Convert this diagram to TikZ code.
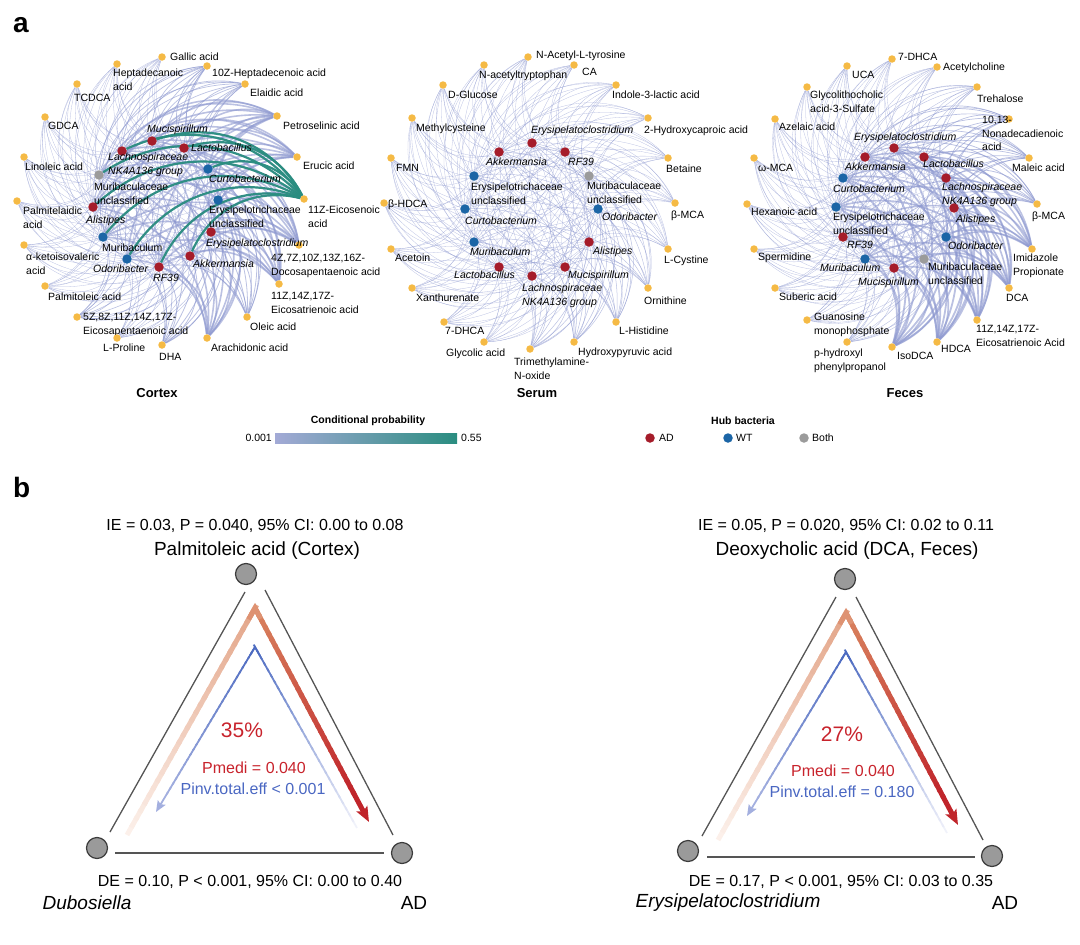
\documentclass[tikz,border=0pt]{standalone}
\usepackage{fontspec}
\setmainfont{Liberation Sans}
\usetikzlibrary{arrows.meta,calc}
\pgfdeclarelayer{bg}
\pgfsetlayers{bg,main}
\definecolor{metY}{HTML}{F5BA45}
\definecolor{adR}{HTML}{A51C2A}
\definecolor{wtB}{HTML}{1B65A6}
\definecolor{bothG}{HTML}{9B9B9B}
\definecolor{edgeC}{HTML}{8D98CF}
\definecolor{tealC}{HTML}{2A8D80}
\definecolor{cbL}{HTML}{A3AAD6}
\definecolor{triG}{HTML}{9A9A9A}
\definecolor{triD}{HTML}{3C3C3C}
\definecolor{sideC}{HTML}{555555}
\definecolor{txtR}{HTML}{C8232C}
\definecolor{txtB}{HTML}{4A67C2}
\definecolor{oLa}{HTML}{FCF1EB}
\definecolor{oLb}{HTML}{E3A487}
\definecolor{oRa}{HTML}{D9845F}
\definecolor{oRb}{HTML}{C0252B}
\definecolor{oAp}{HTML}{DE9272}
\definecolor{bLa}{HTML}{F2F3FB}
\definecolor{bAp}{HTML}{4D6BC1}
\definecolor{bLt}{HTML}{A3AFDF}
\newcommand{\netfont}{\fontsize{10.5}{13.6}\selectfont}
\newcommand{\metab}[4]{\node[met] (#1) at (#2) {}; \node[lab] (#1t) at (#3) {#4};}
\newcommand{\bact}[6]{\node[#2] (#1) at (#3) {}; \node[#5] (#1t) at (#4) {#6};}
\newcommand{\gseg}[6]{%
  \foreach \k in {1,...,#6}{%
    \pgfmathsetmacro{\ga}{(\k-1)/#6}%
    \pgfmathsetmacro{\gb}{(\k+0.4)/#6}%
    \pgfmathtruncatemacro{\gp}{100*(\k-0.5)/#6}%
    \draw[line width=#5, draw={#4!\gp!#3}] ($(#1)!\ga!(#2)$) -- ($(#1)!\gb!(#2)$);
  }}
\tikzset{
  met/.style={circle,fill=metY,inner sep=0pt,minimum size=7.5pt},
  ad/.style={circle,fill=adR,inner sep=0pt,minimum size=9.5pt},
  wt/.style={circle,fill=wtB,inner sep=0pt,minimum size=9.5pt},
  both/.style={circle,fill=bothG,inner sep=0pt,minimum size=9.5pt},
  lab/.style={inner sep=0pt,anchor=north west,align=left,font=\netfont,yshift=4pt},
  itl/.style={lab,font=\netfont\itshape},
  edge/.style={draw=edgeC,opacity=0.6},
  tealedge/.style={draw=tealC,line width=2.2pt,opacity=0.95},
  tri/.style={circle,draw=triD,fill=triG,line width=1.2pt,minimum size=21pt,inner sep=0pt},
  side/.style={draw=sideC,line width=1.3pt},
  btxt/.style={font=\fontsize{16}{19}\selectfont,inner sep=0pt},
  bttl/.style={font=\fontsize{19}{22}\selectfont,inner sep=0pt},
  ttl/.style={font=\fontsize{13}{15}\selectfont\bfseries,inner sep=0pt},
  leg/.style={font=\fontsize{10.5}{12}\selectfont,inner sep=0pt},
  legb/.style={font=\fontsize{10.5}{12}\selectfont\bfseries,inner sep=0pt},
  pan/.style={font=\fontsize{28}{30}\selectfont\bfseries,inner sep=0pt,anchor=base west}
}
\begin{document}
\begin{tikzpicture}[x=1pt,y=-1pt]
\useasboundingbox (0,0) rectangle (1080,945);
\node[pan] (pa) at (13,32) {a};
\node[pan] (pb) at (13,497) {b};
% ================= CORTEX =================
\metab{cm1}{162,57}{170,57}{Gallic acid}
\metab{cm2}{117,64}{113,73}{Heptadecanoic\\acid}
\metab{cm3}{207,66}{212,73}{10Z-Heptadecenoic acid}
\metab{cm4}{77,84}{74,98}{TCDCA}
\metab{cm5}{245,84}{250,93}{Elaidic acid}
\metab{cm6}{45,117}{48,126}{GDCA}
\metab{cm7}{277,116}{283,126}{Petroselinic acid}
\metab{cm8}{24,157}{25,167}{Linoleic acid}
\metab{cm9}{297,157}{303,166}{Erucic acid}
\metab{cm10}{304,199}{308,210}{11Z-Eicosenoic\\acid}
\metab{cm11}{17,201}{23,211}{Palmitelaidic\\acid}
\metab{cm12}{299,245}{271,258}{4Z,7Z,10Z,13Z,16Z-\\Docosapentaenoic acid}
\metab{cm13}{24,245}{26,257}{α-ketoisovaleric\\acid}
\metab{cm14}{279,284}{271,296}{11Z,14Z,17Z-\\Eicosatrienoic acid}
\metab{cm15}{45,286}{48,297}{Palmitoleic acid}
\metab{cm16}{247,317}{250,327}{Oleic acid}
\metab{cm17}{77,317}{83,317}{5Z,8Z,11Z,14Z,17Z-\\Eicosapentaenoic acid}
\metab{cm18}{207,338}{211,348}{Arachidonic acid}
\metab{cm19}{117,338}{103,348}{L-Proline}
\metab{cm20}{162,345}{159,357}{DHA}
\bact{cb1}{ad}{152,141}{147,129}{itl}{Mucispirillum}
\bact{cb2}{ad}{122,151}{108,157}{itl}{Lachnospiraceae\\NK4A136 group}
\bact{cb3}{ad}{184,148}{191,148}{itl}{Lactobacillus}
\bact{cb4}{both}{99,175}{94,187}{lab}{Muribaculaceae\\unclassified}
\bact{cb5}{wt}{208,169}{209,179}{itl}{Curtobacterium}
\bact{cb6}{ad}{93,207}{86,220}{itl}{Alistipes}
\bact{cb7}{wt}{218,200}{209,210}{lab}{Erysipelotrichaceae\\unclassified}
\bact{cb8}{ad}{211,232}{206,243}{itl}{Erysipelatoclostridium}
\bact{cb9}{wt}{103,237}{102,248}{lab}{Muribaculum}
\bact{cb10}{ad}{190,256}{193,264}{itl}{Akkermansia}
\bact{cb11}{wt}{127,259}{93,269}{itl}{Odoribacter}
\bact{cb12}{ad}{159,267}{153,278}{itl}{RF39}
% ================= SERUM =================
\metab{sm1}{528,57}{536,55}{N-Acetyl-L-tyrosine}
\metab{sm2}{484,65}{479,75}{N-acetyltryptophan}
\metab{sm3}{574,65}{582,72}{CA}
\metab{sm4}{443,85}{448,95}{D-Glucose}
\metab{sm5}{616,85}{612,95}{Indole-3-lactic acid}
\metab{sm6}{412,118}{416,128}{Methylcysteine}
\metab{sm7}{648,118}{644,130}{2-Hydroxycaproic acid}
\metab{sm8}{391,158}{396,168}{FMN}
\metab{sm9}{668,158}{666,169}{Betaine}
\metab{sm10}{384,203}{388,204}{β-HDCA}
\metab{sm11}{675,203}{671,215}{β-MCA}
\metab{sm12}{391,249}{395,258}{Acetoin}
\metab{sm13}{668,249}{664,260}{L-Cystine}
\metab{sm14}{412,288}{416,298}{Xanthurenate}
\metab{sm15}{648,288}{644,301}{Ornithine}
\metab{sm16}{444,322}{445,331}{7-DHCA}
\metab{sm17}{616,322}{619,331}{L-Histidine}
\metab{sm18}{484,342}{446,353}{Glycolic acid}
\metab{sm19}{574,342}{578,352}{Hydroxypyruvic acid}
\metab{sm20}{530,349}{514,362}{Trimethylamine-\\N-oxide}
\bact{sb1}{ad}{532,143}{531,130}{itl}{Erysipelatoclostridium}
\bact{sb2}{ad}{499,152}{486,162}{itl}{Akkermansia}
\bact{sb3}{ad}{565,152}{568,162}{itl}{RF39}
\bact{sb4}{wt}{474,176}{471,187}{lab}{Erysipelotrichaceae\\unclassified}
\bact{sb5}{both}{589,176}{587,186}{lab}{Muribaculaceae\\unclassified}
\bact{sb6}{wt}{465,209}{465,221}{itl}{Curtobacterium}
\bact{sb7}{wt}{598,209}{602,217}{itl}{Odoribacter}
\bact{sb8}{wt}{474,242}{470,252}{itl}{Muribaculum}
\bact{sb9}{ad}{589,242}{593,251}{itl}{Alistipes}
\bact{sb10}{ad}{499,267}{454,275}{itl}{Lactobacillus}
\bact{sb11}{ad}{565,267}{568,275}{itl}{Mucispirillum}
\bact{sb12}{ad}{532,276}{522,288}{itl}{Lachnospiraceae\\NK4A136 group}
% ================= FECES =================
\metab{fm1}{892,59}{898,57}{7-DHCA}
\metab{fm2}{847,66}{852,75}{UCA}
\metab{fm3}{937,67}{943,67}{Acetylcholine}
\metab{fm4}{807,87}{810,95}{Glycolithocholic\\acid-3-Sulfate}
\metab{fm5}{977,87}{977,99}{Trehalose}
\metab{fm6}{775,119}{779,127}{Azelaic acid}
\metab{fm7}{1009,119}{982,120}{10,13-\\Nonadecadienoic\\acid}
\metab{fm8}{754,158}{758,168}{ω-MCA}
\metab{fm9}{1029,158}{1012,168}{Maleic acid}
\metab{fm10}{747,204}{751,212}{Hexanoic acid}
\metab{fm11}{1037,204}{1032,216}{β-MCA}
\metab{fm12}{754,249}{758,257}{Spermidine}
\metab{fm13}{1032,249}{1013,258}{Imidazole\\Propionate}
\metab{fm14}{775,288}{779,297}{Suberic acid}
\metab{fm15}{1009,288}{1006,298}{DCA}
\metab{fm16}{807,320}{814,317}{Guanosine\\monophosphate}
\metab{fm17}{977,320}{976,329}{11Z,14Z,17Z-\\Eicosatrienoic Acid}
\metab{fm18}{847,342}{814,353}{p-hydroxyl\\phenylpropanol}
\metab{fm19}{937,342}{941,349}{HDCA}
\metab{fm20}{892,347}{897,356}{IsoDCA}
\bact{fb1}{ad}{894,148}{854,137}{itl}{Erysipelatoclostridium}
\bact{fb2}{ad}{865,157}{845,167}{itl}{Akkermansia}
\bact{fb3}{ad}{924,157}{923,164}{itl}{Lactobacillus}
\bact{fb4}{wt}{843,178}{833,189}{itl}{Curtobacterium}
\bact{fb5}{ad}{946,178}{942,187}{itl}{Lachnospiraceae\\NK4A136 group}
\bact{fb6}{wt}{836,207}{833,217}{lab}{Erysipelotrichaceae\\unclassified}
\bact{fb7}{ad}{954,208}{956,219}{itl}{Alistipes}
\bact{fb8}{ad}{843,237}{847,245}{itl}{RF39}
\bact{fb9}{wt}{946,237}{948,246}{itl}{Odoribacter}
\bact{fb10}{wt}{865,259}{820,268}{itl}{Muribaculum}
\bact{fb11}{both}{924,259}{928,267}{lab}{Muribaculaceae\\unclassified}
\bact{fb12}{ad}{894,268}{858,282}{itl}{Mucispirillum}
% ================= EDGES =================
\begin{pgfonlayer}{bg}
\foreach \m/\w in {cm1/0.3pt,cm2/0.3pt,cm3/0.7pt,cm4/0.3pt,cm5/0.7pt,cm6/0.3pt,cm7/1.6pt,cm8/0.3pt,cm9/1.6pt,cm10/1.6pt,cm11/0.3pt,cm12/1.6pt,cm13/0.3pt,cm14/1.6pt,cm15/0.3pt,cm16/0.8pt,cm17/0.6pt,cm18/1.6pt,cm19/0.4pt,cm20/0.8pt}{
  \foreach \i in {1,...,12}{\draw[edge,line width=\w] (cb\i) to[bend left=40] (\m);}}
\foreach \i in {1,2,3,4,5,6,9,10,11,12}{\draw[tealedge] (cb\i) to[bend left=40] (cm10);}
\foreach \m/\w in {sm1/0.3pt,sm2/0.3pt,sm3/0.3pt,sm4/0.3pt,sm5/0.3pt,sm6/0.3pt,sm7/0.3pt,sm8/0.3pt,sm9/0.3pt,sm10/0.3pt,sm11/0.3pt,sm12/0.3pt,sm13/0.3pt,sm14/0.3pt,sm15/0.45pt,sm16/0.3pt,sm17/0.5pt,sm18/0.3pt,sm19/0.5pt,sm20/0.5pt}{
  \foreach \i in {1,...,12}{\draw[edge,line width=\w] (sb\i) to[bend left=40] (\m);}}
\foreach \m/\w in {fm1/0.3pt,fm2/0.3pt,fm3/0.3pt,fm4/0.3pt,fm5/0.4pt,fm6/0.3pt,fm7/0.7pt,fm8/0.3pt,fm9/0.7pt,fm10/0.3pt,fm11/0.8pt,fm12/0.3pt,fm13/1.5pt,fm14/0.3pt,fm15/1.6pt,fm16/0.3pt,fm17/1.7pt,fm18/0.4pt,fm19/1.8pt,fm20/1.8pt}{
  \foreach \i in {1,...,12}{\draw[edge,line width=\w] (fb\i) to[bend left=40] (\m);}}
\end{pgfonlayer}
% ================= TITLES & LEGEND =================
\node[ttl] (tc) at (157,393) {Cortex};
\node[ttl] (ts) at (537,393) {Serum};
\node[ttl] (tf) at (905,393) {Feces};
\node[legb] (cpt) at (368,421) {Conditional probability};
\node[inner sep=0pt,minimum width=182pt,minimum height=10pt,left color=cbL,right color=tealC] (cbar) at (366,438) {};
\node[leg,anchor=east] (cb0) at (272,438) {0.001};
\node[leg,anchor=west] (cb1) at (461,438) {0.55};
\node[legb] (hbt) at (743,421) {Hub bacteria};
\node[ad] (lad) at (650,438) {};
\node[leg,anchor=west] (ladt) at (659,438) {AD};
\node[wt] (lwt) at (728,438) {};
\node[leg,anchor=west] (lwtt) at (736,438) {WT};
\node[both] (lbo) at (804,438) {};
\node[leg,anchor=west] (lbot) at (812,438) {Both};
% ================= PANEL b LEFT =================
\node[btxt] (Lie) at (255,526) {IE = 0.03, P = 0.040, 95\% CI: 0.00 to 0.08};
\node[bttl] (Lttl) at (257,551) {Palmitoleic acid (Cortex)};
\node[tri] (Lt) at (246,574) {};
\node[tri] (Lbl) at (97,848) {};
\node[tri] (Lbr) at (402,853) {};
\coordinate (La1) at (110,832); \coordinate (La2) at (245,592);
\coordinate (Lb1) at (265,590); \coordinate (Lb2) at (393,835);
\coordinate (Lc1) at (115,853); \coordinate (Lc2) at (384,853);
\draw[side] (La1) -- (La2);
\draw[side] (Lb1) -- (Lb2);
\draw[side] (Lc1) -- (Lc2);
\coordinate (Los) at (127,835); \coordinate (Loa) at (255,608); \coordinate (Lot) at (369,822);
\coordinate (Lbs) at (357,828); \coordinate (Lba) at (255,647); \coordinate (Lbt) at (156,812);
\coordinate (Lom) at ($(Loa)!0.86!(Lot)$);
\gseg{Los}{Loa}{oLa}{oLb}{5pt}{30}
\gseg{Loa}{Lom}{oRa}{oRb}{5pt}{30}
\draw[line width=5pt,line join=miter,draw=oAp] ($(Loa)!0.05!(Los)$) -- (Loa) -- ($(Loa)!0.05!(Lot)$);
\draw[line width=5pt,draw=oRb,-{Stealth[length=15pt,width=12pt,inset=3pt]}] (Lom) -- (Lot);
\coordinate (Lbm) at ($(Lba)!0.88!(Lbt)$);
\gseg{Lbs}{Lba}{bLa}{bAp}{1.8pt}{30}
\gseg{Lba}{Lbm}{bAp}{bLt}{1.8pt}{30}
\draw[line width=1.8pt,line join=miter,draw=bAp] ($(Lba)!0.05!(Lbs)$) -- (Lba) -- ($(Lba)!0.05!(Lbt)$);
\draw[line width=1.8pt,draw=bLt,-{Stealth[length=11pt,width=9pt,inset=2pt]}] (Lbm) -- (Lbt);
\node[font=\fontsize{21}{24}\selectfont,text=txtR,inner sep=0pt] (Lpct) at (242,730) {35\%};
\node[btxt,text=txtR] (Lpm) at (254,768) {Pmedi = 0.040};
\node[btxt,text=txtB] (Lpi) at (253,789) {Pinv.total.eff < 0.001};
\node[btxt] (Lde) at (250,882) {DE = 0.10, P < 0.001, 95\% CI: 0.00 to 0.40};
\node[bttl,font=\fontsize{19}{22}\selectfont\itshape] (Lx) at (87,903) {Dubosiella};
\node[bttl] (Ly) at (414,903) {AD};
% ================= PANEL b RIGHT =================
\node[btxt] (Rie) at (846,526) {IE = 0.05, P = 0.020, 95\% CI: 0.02 to 0.11};
\node[bttl] (Rttl) at (847,551) {Deoxycholic acid (DCA, Feces)};
\node[tri] (Rt) at (845,579) {};
\node[tri] (Rbl) at (688,851) {};
\node[tri] (Rbr) at (992,856) {};
\coordinate (Ra1) at (702,836); \coordinate (Ra2) at (836,597);
\coordinate (Rb1) at (856,597); \coordinate (Rb2) at (983,840);
\coordinate (Rc1) at (707,857); \coordinate (Rc2) at (975,857);
\draw[side] (Ra1) -- (Ra2);
\draw[side] (Rb1) -- (Rb2);
\draw[side] (Rc1) -- (Rc2);
\coordinate (Ros) at (718,840); \coordinate (Roa) at (846,613); \coordinate (Rot) at (958,825);
\coordinate (Rbs) at (947,833); \coordinate (Rba) at (846,652); \coordinate (Rbt) at (747,816);
\coordinate (Rom) at ($(Roa)!0.86!(Rot)$);
\gseg{Ros}{Roa}{oLa}{oLb}{5pt}{30}
\gseg{Roa}{Rom}{oRa}{oRb}{5pt}{30}
\draw[line width=5pt,line join=miter,draw=oAp] ($(Roa)!0.05!(Ros)$) -- (Roa) -- ($(Roa)!0.05!(Rot)$);
\draw[line width=5pt,draw=oRb,-{Stealth[length=15pt,width=12pt,inset=3pt]}] (Rom) -- (Rot);
\coordinate (Rbm) at ($(Rba)!0.88!(Rbt)$);
\gseg{Rbs}{Rba}{bLa}{bAp}{1.8pt}{30}
\gseg{Rba}{Rbm}{bAp}{bLt}{1.8pt}{30}
\draw[line width=1.8pt,line join=miter,draw=bAp] ($(Rba)!0.05!(Rbs)$) -- (Rba) -- ($(Rba)!0.05!(Rbt)$);
\draw[line width=1.8pt,draw=bLt,-{Stealth[length=11pt,width=9pt,inset=2pt]}] (Rbm) -- (Rbt);
\node[font=\fontsize{21}{24}\selectfont,text=txtR,inner sep=0pt] (Rpct) at (842,734) {27\%};
\node[btxt,text=txtR] (Rpm) at (843,771) {Pmedi = 0.040};
\node[btxt,text=txtB] (Rpi) at (842,792) {Pinv.total.eff = 0.180};
\node[btxt] (Rde) at (841,882) {DE = 0.17, P < 0.001, 95\% CI: 0.03 to 0.35};
\node[bttl,font=\fontsize{19}{22}\selectfont\itshape] (Rx) at (728,903) {Erysipelatoclostridium};
\node[bttl] (Ry) at (1005,903) {AD};
\end{tikzpicture}
\end{document}
